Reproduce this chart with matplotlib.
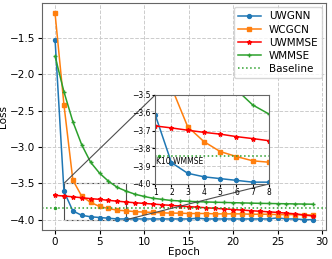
import numpy as np
import matplotlib.pyplot as plt
from mpl_toolkits.axes_grid1.inset_locator import mark_inset

plt.rcParams['font.size'] = 7.5
plt.rcParams['axes.edgecolor'] = '0.4'

epochs = np.arange(30)
# loss per epoch for each method
uwgnn = [-1.52, -3.61, -3.88, -3.94, -3.96, -3.97, -3.98, -3.99, -3.99, -3.99,
         -3.99, -3.99, -3.99, -3.99, -3.99, -3.99, -3.98, -3.99, -3.99, -3.99,
         -3.99, -3.99, -3.99, -3.99, -3.99, -3.975, -3.99, -3.99, -4.0, -4.0]
wcgcn = [-1.16, -2.42, -3.455, -3.678, -3.762, -3.818, -3.846, -3.87, -3.878, -3.89,
         -3.895, -3.90, -3.905, -3.91, -3.91, -3.915, -3.915, -3.915, -3.92, -3.92,
         -3.92, -3.92, -3.925, -3.925, -3.925, -3.93, -3.93, -3.93, -3.935, -3.935]
uwmmse = [-3.665, -3.674, -3.685, -3.698, -3.71, -3.72, -3.734, -3.745, -3.757, -3.767,
          -3.776, -3.785, -3.794, -3.803, -3.812, -3.82, -3.828, -3.836, -3.844, -3.852,
          -3.86, -3.868, -3.876, -3.884, -3.892, -3.90, -3.91, -3.92, -3.935, -3.95]
wmmse = [-1.75, -2.24, -2.65, -2.97, -3.21, -3.36, -3.47, -3.556, -3.607, -3.65,
         -3.68, -3.705, -3.72, -3.735, -3.742, -3.748, -3.752, -3.756, -3.76, -3.763,
         -3.766, -3.769, -3.772, -3.775, -3.777, -3.779, -3.781, -3.783, -3.785, -3.787]
baseline = -3.843

series = [(uwgnn, 'UWGNN', 'tab:blue', 'o', 2.8),
          (wcgcn, 'WCGCN', 'tab:orange', 's', 2.3),
          (uwmmse, 'UWMMSE', 'red', '*', 3.2),
          (wmmse, 'WMMSE', 'tab:green', '+', 3.2)]

fig = plt.figure(figsize=(3.32, 2.59), dpi=100)
ax = fig.add_axes([0.127, 0.112, 0.855, 0.876])
for vals, name, c, m, ms in series:
    ax.plot(epochs, vals, color=c, marker=m, ms=ms, lw=1.1, label=name)
ax.axhline(baseline, color='tab:green', ls=':', lw=1.1, label='Baseline')
ax.plot([0], [baseline], '.', color='tab:green', ms=3)
ax.grid(True, ls='--', color='0.8', lw=0.7)
ax.set_xlabel('Epoch', labelpad=0)
ax.set_ylabel('Loss', labelpad=1)
ax.set_xticks([0, 5, 10, 15, 20, 25, 30])
ax.tick_params(pad=2, length=3)
ax.legend(loc='upper right', fontsize=7.5, handlelength=2.2, labelspacing=0.3,
          borderaxespad=0.4)

axins = ax.inset_axes([0.398, 0.203, 0.401, 0.392])
for vals, name, c, m, ms in series:
    axins.plot(epochs, vals, color=c, marker=m, ms=ms, lw=1.1)
axins.axhline(baseline, color='tab:green', ls=':', lw=1.1)
axins.plot([1.25], [baseline], '.', color='tab:green', ms=3)
axins.text(1.05, -3.875, 'K10 WMMSE', fontsize=5.5, va='center')
axins.set_xlim(1, 8)
axins.set_ylim(-4.0, -3.5)
axins.set_yticks([-4.0, -3.9, -3.8, -3.7, -3.6, -3.5])
axins.set_xticks(range(1, 9))
axins.tick_params(labelsize=5.5, length=2, pad=1)
axins.grid(True, ls='--', color='0.8', lw=0.7)
mark_inset(ax, axins, loc1=2, loc2=4, fc='none', ec='0.3', lw=0.8)

fig.savefig('out.png', dpi=100)
